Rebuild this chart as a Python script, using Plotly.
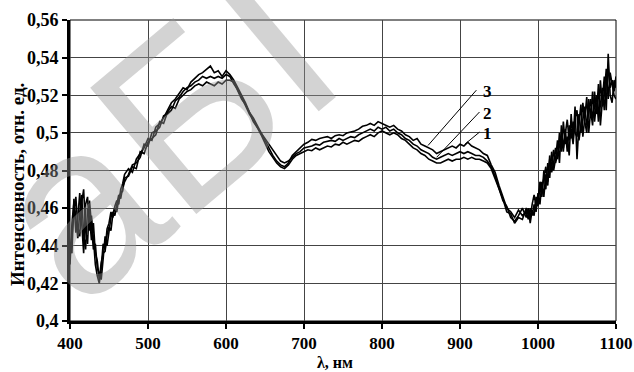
import plotly.graph_objects as go

# wavelength grid: finer in the noisy ends
wl_blue = [400 + 2.5 * i for i in range(29)]          # 400 ... 470
wl_mid = list(range(475, 981, 5))                      # 475 ... 980
wl_ir = [985 + 2.5 * i for i in range(47)]             # 985 ... 1100
wavelength = wl_blue + wl_mid + wl_ir

c3_blue = [0.430, 0.452, 0.463, 0.447, 0.455, 0.468, 0.452, 0.436, 0.462, 0.466,
           0.448, 0.456, 0.444, 0.430, 0.424, 0.420, 0.428, 0.441, 0.438, 0.449,
           0.452, 0.458, 0.455, 0.461, 0.464, 0.462, 0.470, 0.473, 0.478]
c2_blue = [0.437, 0.445, 0.458, 0.466, 0.450, 0.445, 0.463, 0.470, 0.448, 0.441,
           0.464, 0.452, 0.438, 0.441, 0.428, 0.425, 0.422, 0.433, 0.445, 0.440,
           0.447, 0.455, 0.458, 0.456, 0.462, 0.467, 0.465, 0.471, 0.474]
c1_blue = [0.442, 0.436, 0.465, 0.455, 0.444, 0.458, 0.467, 0.446, 0.438, 0.460,
           0.455, 0.443, 0.452, 0.436, 0.432, 0.422, 0.431, 0.436, 0.437, 0.446,
           0.450, 0.448, 0.457, 0.460, 0.458, 0.465, 0.468, 0.469, 0.476]

c3_mid = [0.481, 0.479, 0.486, 0.489, 0.492,
          0.497, 0.496, 0.503, 0.505, 0.508, 0.512, 0.516, 0.518, 0.521, 0.524,
          0.523, 0.527, 0.529, 0.531, 0.532, 0.534, 0.5355, 0.532, 0.533, 0.530,
          0.533, 0.531, 0.528, 0.524, 0.520, 0.516, 0.511, 0.508, 0.504, 0.500,
          0.496, 0.492, 0.488, 0.485, 0.483, 0.482, 0.484, 0.488, 0.490, 0.492,
          0.494, 0.495, 0.4965, 0.496, 0.497, 0.4975, 0.498, 0.497, 0.4985, 0.499,
          0.4985, 0.500, 0.5005, 0.501, 0.502, 0.5035, 0.504, 0.505, 0.504, 0.506,
          0.505, 0.504, 0.503, 0.504, 0.502, 0.501, 0.499, 0.498, 0.496, 0.497,
          0.494, 0.493, 0.492, 0.491, 0.489, 0.490, 0.491, 0.492, 0.493, 0.492,
          0.494, 0.493, 0.495, 0.493, 0.492, 0.491, 0.489, 0.488, 0.483, 0.479,
          0.472, 0.466, 0.460, 0.458, 0.455, 0.459, 0.456]
c2_mid = [0.478, 0.483, 0.484, 0.487, 0.494,
          0.493, 0.500, 0.501, 0.503, 0.509, 0.510, 0.512, 0.517, 0.519, 0.522,
          0.524, 0.525, 0.527, 0.528, 0.530, 0.529, 0.530, 0.529, 0.530, 0.529,
          0.531, 0.530, 0.526, 0.523, 0.519, 0.514, 0.510, 0.507, 0.503, 0.500,
          0.497, 0.494, 0.491, 0.488, 0.485, 0.484, 0.485, 0.487, 0.489, 0.490,
          0.492, 0.4925, 0.493, 0.494, 0.4935, 0.495, 0.4955, 0.496, 0.4955, 0.497,
          0.496, 0.497, 0.498, 0.4975, 0.499, 0.500, 0.501, 0.502, 0.501, 0.503,
          0.502, 0.503, 0.501, 0.502, 0.500, 0.499, 0.497, 0.496, 0.494, 0.493,
          0.491, 0.490, 0.489, 0.487, 0.486, 0.487, 0.488, 0.489, 0.488, 0.489,
          0.490, 0.489, 0.490, 0.489, 0.488, 0.488, 0.487, 0.485, 0.482, 0.477,
          0.471, 0.464, 0.461, 0.455, 0.453, 0.456, 0.460]
c1_mid = [0.477, 0.482, 0.481, 0.490, 0.489,
          0.495, 0.497, 0.499, 0.506, 0.505, 0.511, 0.514, 0.513, 0.518, 0.520,
          0.522, 0.523, 0.525, 0.526, 0.525, 0.527, 0.526, 0.525, 0.527, 0.526,
          0.528, 0.528, 0.527, 0.522, 0.518, 0.515, 0.511, 0.506, 0.503, 0.499,
          0.494, 0.490, 0.487, 0.484, 0.482, 0.481, 0.483, 0.486, 0.488, 0.489,
          0.490, 0.491, 0.4905, 0.492, 0.491, 0.492, 0.493, 0.4925, 0.494, 0.4935,
          0.495, 0.494, 0.495, 0.496, 0.4955, 0.497, 0.498, 0.499, 0.498, 0.500,
          0.501, 0.500, 0.499, 0.500, 0.499, 0.497, 0.496, 0.494, 0.492, 0.491,
          0.489, 0.488, 0.486, 0.485, 0.484, 0.484, 0.485, 0.486, 0.485, 0.486,
          0.486, 0.487, 0.486, 0.487, 0.486, 0.486, 0.485, 0.484, 0.481, 0.476,
          0.470, 0.465, 0.458, 0.457, 0.452, 0.455, 0.454]

c3_ir = [0.458, 0.454, 0.460, 0.456, 0.462, 0.458, 0.468, 0.462, 0.474, 0.466,
         0.478, 0.472, 0.488, 0.479, 0.484, 0.492, 0.486, 0.500, 0.490, 0.506,
         0.494, 0.498, 0.488, 0.510, 0.496, 0.514, 0.486, 0.505, 0.515, 0.498,
         0.508, 0.519, 0.500, 0.512, 0.504, 0.522, 0.510, 0.526, 0.504, 0.518,
         0.530, 0.512, 0.542, 0.520, 0.516, 0.528, 0.524]
c2_ir = [0.455, 0.460, 0.452, 0.459, 0.456, 0.466, 0.461, 0.472, 0.466, 0.480,
         0.470, 0.484, 0.476, 0.490, 0.480, 0.486, 0.496, 0.484, 0.504, 0.492,
         0.500, 0.507, 0.496, 0.502, 0.494, 0.508, 0.512, 0.496, 0.504, 0.516,
         0.506, 0.500, 0.518, 0.508, 0.522, 0.506, 0.516, 0.510, 0.528, 0.514,
         0.520, 0.534, 0.518, 0.532, 0.526, 0.520, 0.518]
c1_ir = [0.460, 0.457, 0.455, 0.462, 0.467, 0.461, 0.464, 0.474, 0.470, 0.476,
         0.482, 0.474, 0.486, 0.482, 0.491, 0.484, 0.488, 0.493, 0.498, 0.490,
         0.502, 0.490, 0.504, 0.497, 0.506, 0.500, 0.498, 0.510, 0.500, 0.506,
         0.514, 0.504, 0.512, 0.518, 0.508, 0.514, 0.520, 0.506, 0.516, 0.524,
         0.512, 0.526, 0.534, 0.524, 0.528, 0.522, 0.530]

curve_1 = c1_blue + c1_mid + c1_ir
curve_2 = c2_blue + c2_mid + c2_ir
curve_3 = c3_blue + c3_mid + c3_ir

y_tick_values = [0.40, 0.42, 0.44, 0.46, 0.48, 0.50, 0.52, 0.54, 0.56]
y_tick_labels = ["0,4", "0,42", "0,44", "0,46", "0,48", "0,5", "0,52", "0,54", "0,56"]
x_tick_values = [400, 500, 600, 700, 800, 900, 1000, 1100]

curve_names = ["1", "2", "3"]
label_text_pos = [(927, 0.4997), (927, 0.5104), (927, 0.5218)]
label_line_start = [(925, 0.5004), (925, 0.5111), (921, 0.5227)]
label_line_end = [(906, 0.4939), (870, 0.4870), (859, 0.4933)]

FONT = "Liberation Serif"

fig = go.Figure()
for ys in (curve_1, curve_2, curve_3):
    fig.add_trace(go.Scatter(x=wavelength, y=ys, mode="lines",
                             line=dict(color="black", width=1.6),
                             showlegend=False, hoverinfo="skip"))

for name, (tx, ty), (sx, sy), (ex, ey) in zip(curve_names, label_text_pos,
                                               label_line_start, label_line_end):
    fig.add_shape(type="line", x0=sx, y0=sy, x1=ex, y1=ey, xref="x", yref="y",
                  line=dict(color="black", width=1))
    fig.add_annotation(x=tx, y=ty, text="<b>%s</b>" % name, showarrow=False,
                       xref="x", yref="y", xanchor="left", yanchor="middle",
                       font=dict(family=FONT, size=17, color="black"))

# faint library watermark
fig.add_annotation(x=0.17, y=0.62, xref="paper", yref="paper",
                   xanchor="center", yanchor="middle", showarrow=False,
                   text="аБI", textangle=-40,
                   font=dict(family="Liberation Sans", size=240,
                             color="rgba(150,150,150,0.42)"))

# top and right border
fig.add_shape(type="rect", x0=0, y0=0, x1=1, y1=1, xref="paper", yref="paper",
              line=dict(color="black", width=1), layer="below")

fig.add_annotation(x=-0.095, y=0.452, xref="paper", yref="paper",
                   xanchor="center", yanchor="middle",
                   text="<b>Интенсивность, отн. ед.</b>", textangle=-90,
                   showarrow=False, font=dict(family=FONT, size=19, color="black"))
fig.add_annotation(x=0.485, y=-0.138, xref="paper", yref="paper",
                   xanchor="center", yanchor="middle",
                   text="<b>λ, нм</b>", showarrow=False,
                   font=dict(family=FONT, size=16, color="black"))

fig.update_xaxes(range=[400, 1100], tickvals=x_tick_values,
                 ticktext=["<b>%d</b>" % v for v in x_tick_values],
                 showgrid=True, gridcolor="#444", gridwidth=1,
                 showline=True, linecolor="black", linewidth=3,
                 ticks="outside", ticklen=5, tickwidth=2, tickcolor="black",
                 tickfont=dict(family=FONT, size=17, color="black"),
                 zeroline=False, automargin=False)
fig.update_yaxes(range=[0.4, 0.56], tickvals=y_tick_values,
                 ticktext=["<b>%s</b>" % t for t in y_tick_labels],
                 showgrid=True, gridcolor="#444", gridwidth=1,
                 showline=True, linecolor="black", linewidth=3,
                 ticks="outside", ticklen=5, tickwidth=2, tickcolor="black",
                 tickfont=dict(family=FONT, size=18, color="black"),
                 zeroline=False, automargin=False)

fig.update_layout(width=634, height=372,
                  margin=dict(l=70, r=18, t=20, b=51),
                  paper_bgcolor="white", plot_bgcolor="white")

fig.write_html("out.html", config={"displayModeBar": False},
               post_script="document.body.style.margin='0';"
                           "document.body.style.overflow='hidden';")
